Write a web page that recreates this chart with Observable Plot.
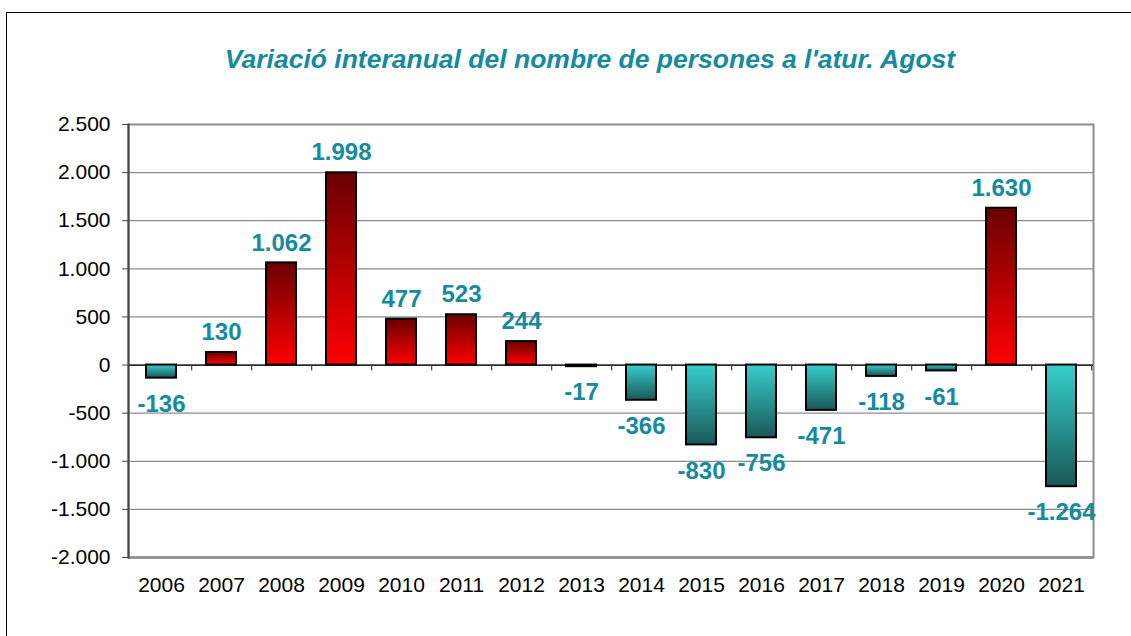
<!DOCTYPE html>
<html>
<head>
<meta charset="utf-8">
<script src="https://cdn.jsdelivr.net/npm/d3@7"></script>
<script src="https://cdn.jsdelivr.net/npm/@observablehq/plot@0.6"></script>
<style>
  html, body { margin: 0; padding: 0; background: #fff; overflow: hidden; width: 1131px; height: 636px; }
  #wrap { position: relative; width: 1131px; height: 636px; font-family: "Liberation Sans", Arial, sans-serif; }
  #border { position: absolute; left: 6px; top: 12px; width: 1300px; height: 800px; border: 1px solid #000; box-sizing: border-box; }
  #title { position: absolute; left: 0; width: 1180px; top: 44px; text-align: center; font: italic bold 26.5px "Liberation Sans", Arial, sans-serif; color: #168a9e; }
  #chart { position: absolute; left: 0; top: 0; }
</style>
</head>
<body>
<div id="wrap">
  <div id="border"></div>
  <div id="chart"></div>
  <div id="title">Variació interanual del nombre de persones a l'atur. Agost</div>
</div>
<script>
const years = ["2006","2007","2008","2009","2010","2011","2012","2013","2014","2015","2016","2017","2018","2019","2020","2021"];
const values = [-136, 130, 1062, 1998, 477, 523, 244, -17, -366, -830, -756, -471, -118, -61, 1630, -1264];
const yTicks = [-2000, -1500, -1000, -500, 0, 500, 1000, 1500, 2000, 2500];

const data = years.map((year, i) => ({year, v: values[i]}));

const locale = d3.formatLocale({decimal: ",", thousands: ".", grouping: [3], currency: ["", "€"], minus: "-"});
const fmt = locale.format(",d");

const W = 1131, H = 636;
const mL = 128, mR = 38, mT = 124, mB = 79;
const step = (W - mL - mR) / years.length;
const teal = "#168a9e";

const defs = () => {
  const d = d3.create("svg:defs");
  const gp = d.append("linearGradient").attr("id", "gPos").attr("x1", 0).attr("y1", 0).attr("x2", 0).attr("y2", 1);
  gp.append("stop").attr("offset", "0%").attr("stop-color", "#6a0000");
  gp.append("stop").attr("offset", "100%").attr("stop-color", "#ff0000");
  const gn = d.append("linearGradient").attr("id", "gNeg").attr("x1", 0).attr("y1", 0).attr("x2", 0).attr("y2", 1);
  gn.append("stop").attr("offset", "0%").attr("stop-color", "#36cfcc");
  gn.append("stop").attr("offset", "100%").attr("stop-color", "#1a5858");
  return d.node();
};

const chart = Plot.plot({
  width: W,
  height: H,
  marginLeft: mL,
  marginRight: mR,
  marginTop: mT,
  marginBottom: mB,
  style: {fontFamily: "'Liberation Sans', Arial, sans-serif", background: "transparent"},
  x: {domain: years, padding: 0},
  y: {domain: [-2000, 2500]},
  marks: [
    defs,
    Plot.ruleY(yTicks, {stroke: "#8c8c8c", strokeWidth: 1.2}),
    Plot.frame({stroke: "#8c8c8c", strokeWidth: 2}),
    Plot.ruleY([-2000], {stroke: "#8c8c8c", strokeWidth: 2.5}),
    Plot.ruleY([0], {stroke: "#000", strokeWidth: 1.2}),
    Plot.ruleX(years, {x: d => d, dx: step / 2, y1: 0, y2: 0, insetBottom: -6, stroke: "#444", strokeWidth: 1.2}),
    Plot.barY(data.filter(d => d.v >= 0), {x: "year", y: "v", fill: "url(#gPos)", stroke: "#000", strokeWidth: 2, insetLeft: 15, insetRight: 15}),
    Plot.barY(data.filter(d => d.v < 0), {x: "year", y: "v", fill: "url(#gNeg)", stroke: "#000", strokeWidth: 2, insetLeft: 15, insetRight: 15}),
    Plot.text(data.filter(d => d.v >= 0), {x: "year", y: "v", text: d => fmt(d.v), dy: -20, fill: teal, fontSize: 24, fontWeight: "bold"}),
    Plot.text(data.filter(d => d.v < 0), {x: "year", y: "v", text: d => fmt(d.v), dy: 26, fill: teal, fontSize: 24, fontWeight: "bold"}),
    Plot.axisY({ticks: yTicks, tickFormat: fmt, tickSize: 6, tickPadding: 12, fontSize: 21, stroke: "#444", color: "#000", label: null}),
    Plot.frame({anchor: "left", stroke: "#444", strokeWidth: 2}),
    Plot.axisX({tickSize: 0, tickPadding: 20, fontSize: 21, color: "#000", label: null})
  ]
});
document.getElementById("chart").appendChild(chart);
</script>
</body>
</html>
